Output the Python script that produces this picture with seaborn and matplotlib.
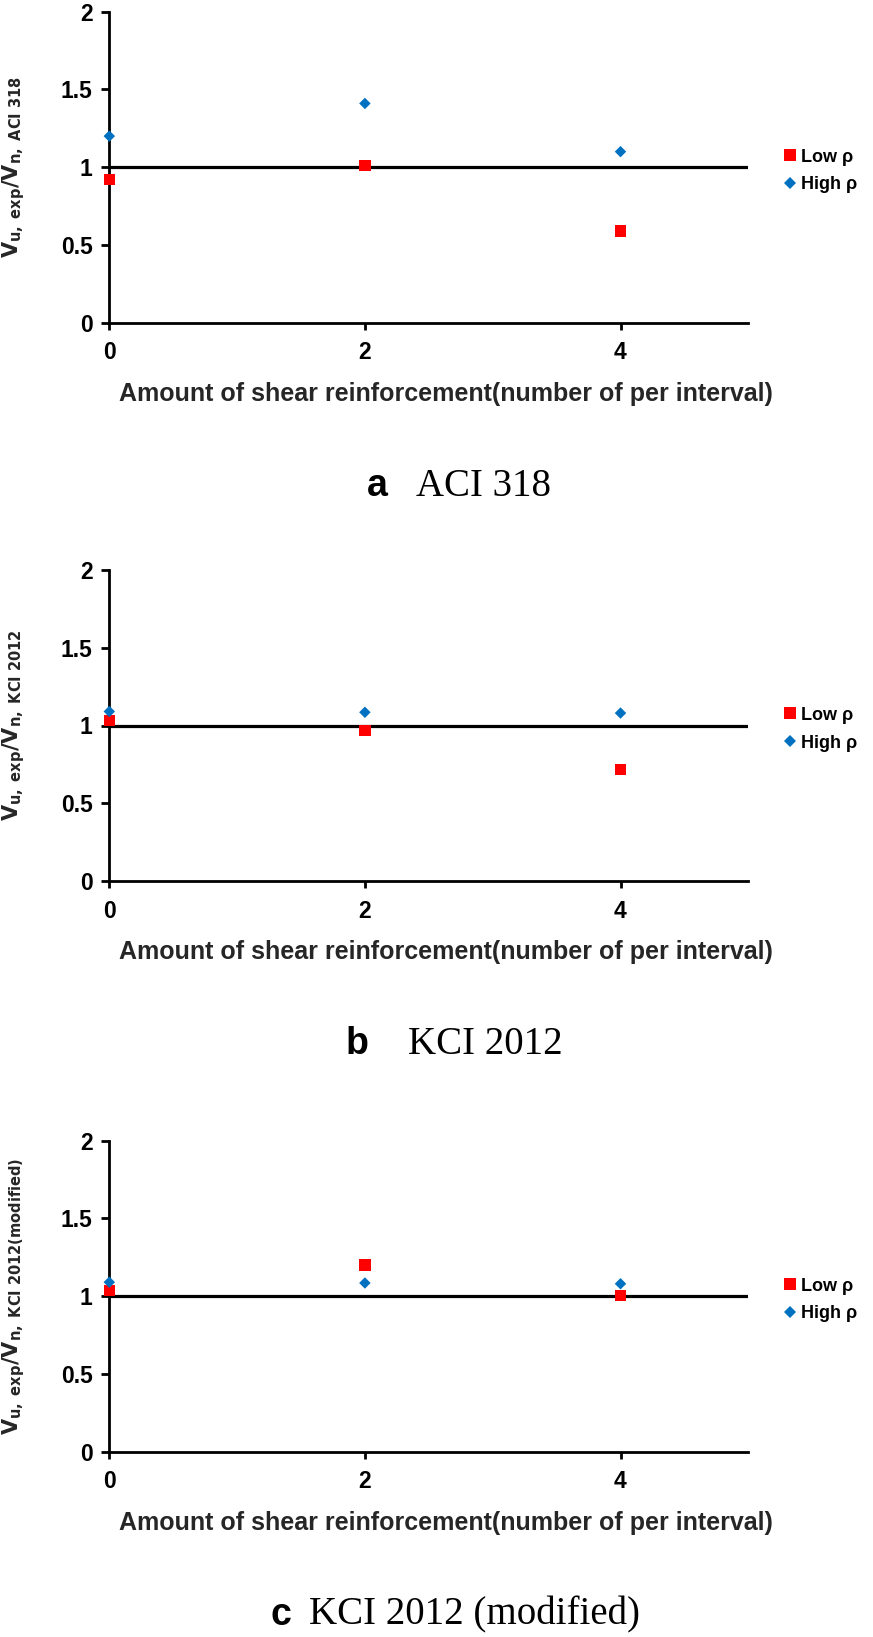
import pandas as pd
import matplotlib.pyplot as plt
import seaborn as sns

# values
x_amount = [0, 2, 4]

aci_low = [0.92, 1.01, 0.59]
aci_high = [1.20, 1.41, 1.10]

kci_low = [1.03, 0.97, 0.715]
kci_high = [1.09, 1.085, 1.08]

kcim_low = [1.035, 1.20, 1.005]
kcim_high = [1.09, 1.085, 1.08]

series_names = ['Low ρ', 'High ρ']
y_ticks = [0, 0.5, 1, 1.5, 2]
y_tick_labels = ['0', '0.5', '1', '1.5', '2']
x_ticks = [0, 2, 4]
x_title = 'Amount of shear reinforcement(number of per interval)'

panels = [
    (aci_low, aci_high, 'ACI\\ 318', 'a', 'ACI 318'),
    (kci_low, kci_high, 'KCI\\ 2012', 'b', 'KCI 2012'),
    (kcim_low, kcim_high, 'KCI\\ 2012(modified)', 'c', 'KCI 2012 (modified)'),
]


def make_frame(low, high):
    rows = []
    for x, y in zip(x_amount, low):
        rows.append({'x': x, 'y': y, 'series': series_names[0]})
    for x, y in zip(x_amount, high):
        rows.append({'x': x, 'y': y, 'series': series_names[1]})
    return pd.DataFrame(rows)


def draw_panel(fig, rect, low, high, sub, letter, caption, cap_xy):
    ax = fig.add_axes(rect)
    df = make_frame(low, high)
    ax.axhline(1, color='black', lw=2.3, zorder=1)
    sns.scatterplot(data=df, x='x', y='y', hue='series', style='series', size='series',
                    palette={'Low ρ': '#ff0000', 'High ρ': '#0070c0'},
                    markers={'Low ρ': 's', 'High ρ': 'D'},
                    sizes={'Low ρ': 66, 'High ρ': 34},
                    linewidth=0, clip_on=False, zorder=3, ax=ax)
    ax.set_xlim(0, 5)
    ax.set_ylim(0, 2)
    ax.set_xticks(x_ticks)
    ax.set_xticklabels([str(t) for t in x_ticks])
    ax.set_yticks(y_ticks)
    ax.set_yticklabels(y_tick_labels)
    sns.despine(ax=ax)
    for side in ['left', 'bottom']:
        ax.spines[side].set_linewidth(2.0)
        ax.spines[side].set_color('black')
    ax.tick_params(axis='y', length=6, width=2, pad=6, labelsize=16.5)
    ax.tick_params(axis='x', length=5, width=2, pad=8.5, labelsize=16.5)
    for lab in ax.get_xticklabels() + ax.get_yticklabels():
        lab.set_fontweight('bold')

    ax.set_xlabel(x_title, fontsize=18, fontweight='bold')
    ax.xaxis.set_label_coords(0.527, -0.228)
    ax.xaxis.label.set_va('center')
    ylab = r'$\mathbf{V_{u,\ exp}/V_{n,\ ' + sub + '}}$'
    ax.set_ylabel(ylab, fontsize=15)
    ax.yaxis.set_label_coords(-0.149, 0.5)
    ax.yaxis.label.set_va('center')

    sns.move_legend(ax, 'center left', bbox_to_anchor=(1.057, 0.488), frameon=False,
                    title=None, fontsize=13, handlelength=0.6, handletextpad=0.3,
                    borderpad=0, borderaxespad=0, labelspacing=0.6)
    for t in ax.get_legend().get_texts():
        t.set_fontweight('bold')

    # caption under the panel: bold letter, then serif title
    fig.text(cap_xy[0] / 873, 1 - cap_xy[2] / 1637, letter, fontsize=27, fontweight='bold',
             family='Liberation Sans', ha='left', va='baseline')
    fig.text(cap_xy[1] / 873, 1 - cap_xy[2] / 1637, caption, fontsize=28,
             family='Liberation Serif', ha='left', va='baseline')
    return ax


def plot_vizualization():
    sns.set_theme(style='ticks')
    plt.rcParams['font.family'] = ['Liberation Sans', 'DejaVu Sans']
    plt.rcParams['mathtext.fontset'] = 'dejavusans'
    plt.rcParams['text.color'] = 'black'
    plt.rcParams['xtick.color'] = 'black'
    plt.rcParams['ytick.color'] = 'black'

    fig = plt.figure(figsize=(8.73, 16.37), dpi=100)
    bottoms_px = [322.7, 881.0, 1451.7]
    cap_pos = [(367, 416), (346, 408), (270, 309)]
    for (low, high, sub, letter, caption), bpx, cp in zip(panels, bottoms_px, cap_pos):
        rect = [109.3 / 873, 1 - bpx / 1637, 639 / 873, 311 / 1637]
        draw_panel(fig, rect, low, high, sub, letter, caption, (cp[0], cp[1], bpx + 173))
    fig.savefig('out.png', dpi=100)


if __name__ == "__main__":
    plot_vizualization()
